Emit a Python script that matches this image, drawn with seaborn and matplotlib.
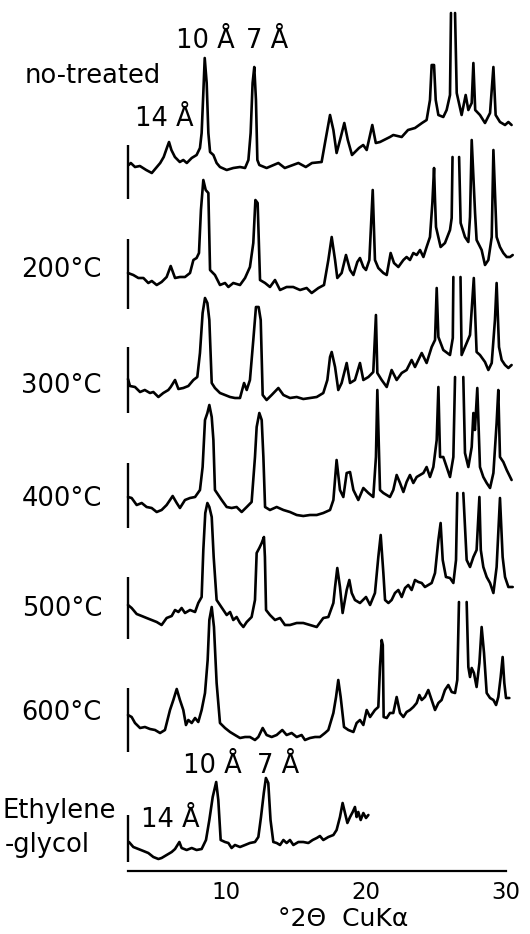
import numpy as np
import seaborn as sns
import matplotlib.pyplot as plt

# 2-theta (deg) and pen height above each trace's start
# nan = pen ran off the chart (peak top clipped)
nan = np.nan

tt_untreated = [3.05, 3.2, 3.5, 3.85, 4.3, 4.7, 5.0, 5.3, 5.55, 5.8, 5.93, 6.1, 6.35, 6.7, 6.95, 7.2, 7.55, 7.9,
                8.14, 8.26, 8.38, 8.48, 8.62, 8.74, 8.86, 9.1, 9.33, 9.57, 10.05, 10.52, 11.0, 11.36, 11.6, 11.76,
                11.9, 12.02, 12.14, 12.24, 12.38, 12.9, 13.74, 14.2, 15.17, 15.7, 16.14, 16.83, 17.07, 17.43, 17.67,
                17.9, 18.2, 18.45, 18.7, 19.0, 19.5, 19.8, 20.05, 20.45, 20.7, 21.0, 21.71, 21.95, 22.55, 23.0, 23.5,
                24.0, 24.33, 24.57, 24.69, 24.86, 24.98, 25.17, 25.52, 25.76, 26.0, 26.07, nan, 26.36, 26.48, 26.83,
                27.12, 27.31, 27.55, 27.67, 27.8, 28.14, 28.5, 28.86, 29.1, 29.26, 29.57, 29.93, 30.17, 30.4]
int_untreated = [0, 2, -2, -1, -5, -8, -3, 2, 8, 18, 23, 15, 8, 3, 5, 2, 7, 10, 17, 32, 72, 107, 82, 32, 13, 10, 2,
                 -2, -5, -3, -2, -3, 5, 32, 82, 98, 65, 5, 0, -3, 2, -3, 2, -2, 2, 3, 22, 50, 35, 12, 28, 42, 25, 10,
                 17, 20, 15, 40, 22, 23, 28, 30, 28, 35, 37, 42, 45, 65, 100, 100, 65, 50, 48, 55, 70, 152, nan, 152,
                 72, 50, 70, 55, 62, 102, 55, 50, 42, 52, 98, 50, 43, 40, 43, 40]

tt_200 = [3.0, 3.38, 3.74, 4.1, 4.45, 4.7, 5.05, 5.4, 5.76, 6.05, 6.36, 6.71, 7.07, 7.43, 7.67, 7.9, 8.07, 8.21,
          8.38, 8.55, 8.74, 8.86, 9.21, 9.57, 9.93, 10.17, 10.52, 11.0, 11.36, 11.71, 11.95, 12.1, 12.26, 12.43,
          12.79, 13.14, 13.5, 13.86, 14.33, 14.8, 15.29, 15.76, 16.12, 16.6, 17.0, 17.31, 17.55, 17.79, 17.95,
          18.26, 18.57, 18.86, 19.1, 19.38, 19.57, 19.81, 20.0, 20.24, 20.48, 20.64, 20.88, 21.24, 21.48, 21.76,
          22.0, 22.31, 22.67, 22.9, 23.14, 23.38, 23.62, 23.86, 24.1, 24.33, 24.57, 24.74, 24.86, 24.93, 25.0,
          25.33, 25.64, 26.0, 26.12, 26.18, nan, 26.65, 26.76, 27.07, 27.31, 27.43, 27.55, 27.79, 27.9, 28.26,
          28.5, 28.74, 28.98, 29.1, 29.33, 29.57, 29.81, 30.05, 30.29, 30.48]
int_200 = [0, -2, -5, -5, -10, -8, -12, -9, -4, 7, -5, -4, -4, 0, 13, 15, 20, 63, 93, 83, 80, 3, -2, -12, -10, -14,
           -10, -12, -5, 6, 30, 73, 70, -7, -10, -14, -7, -17, -14, -14, -17, -15, -20, -15, -12, 13, 36, 13, -5, 0,
           18, 3, -2, 11, 15, 6, 3, 13, 83, 13, 5, 0, -2, 20, 10, 6, 13, 16, 13, 20, 18, 23, 16, 26, 36, 70, 105, 73,
           46, 26, 30, 43, 55, 116, nan, 116, 50, 36, 31, 56, 133, 60, 33, 23, 8, 13, 36, 123, 36, 26, 20, 16, 16, 18]

tt_300 = [3.0, 3.14, 3.5, 3.86, 4.2, 4.57, 4.81, 5.17, 5.52, 5.88, 6.05, 6.36, 6.6, 6.95, 7.31, 7.67, 7.95, 8.14,
          8.33, 8.5, 8.67, 8.81, 8.98, 9.21, 9.57, 9.93, 10.29, 10.64, 11.0, 11.29, 11.48, 11.71, 11.95, 12.14,
          12.33, 12.48, 12.62, 12.9, 13.26, 13.74, 14.1, 14.57, 15.05, 15.52, 16.0, 16.48, 16.95, 17.24, 17.43,
          17.55, 17.79, 18.02, 18.26, 18.62, 18.86, 19.21, 19.57, 19.81, 20.17, 20.52, 20.71, 20.81, 21.12, 21.48,
          21.83, 22.19, 22.55, 22.9, 23.26, 23.5, 23.98, 24.33, 24.69, 24.93, 25.05, 25.17, 25.52, 26.0, 26.2,
          26.24, nan, 26.75, 26.83, 27.19, 27.43, 27.7, 27.9, 28.14, 28.5, 28.74, 28.98, 29.21, 29.33, 29.5,
          29.69, 29.93, 30.17, 30.4]
int_300 = [2, -5, -6, -11, -9, -12, -11, -16, -12, -9, -6, 1, -8, -7, -5, 1, 4, 28, 68, 83, 78, 61, -2, -7, -12,
           -14, -16, -17, -17, -2, -9, 1, 41, 74, 74, 61, -14, -19, -14, -7, -14, -17, -16, -18, -17, -16, -12, 1,
           24, 29, 14, -9, -2, 18, -2, 1, 18, 1, 4, 9, 66, 8, 1, -6, 11, 1, 8, 11, 21, 14, 28, 18, 34, 41, 93, 44,
           31, 26, 43, 104, nan, 104, 26, 38, 46, 103, 29, 26, 19, 11, 18, 61, 98, 34, 21, 16, 13, 16]

tt_400 = [3.0, 3.26, 3.62, 3.98, 4.33, 4.69, 5.05, 5.4, 5.76, 6.0, 6.19, 6.48, 6.71, 7.07, 7.43, 7.79, 8.14, 8.33,
          8.5, 8.67, 8.81, 8.98, 9.1, 9.21, 9.45, 9.69, 10.05, 10.4, 10.76, 11.12, 11.48, 11.83, 12.07, 12.19,
          12.38, 12.55, 12.67, 12.79, 13.14, 13.62, 14.1, 14.57, 15.05, 15.52, 16.0, 16.48, 16.95, 17.43, 17.67,
          17.9, 18.14, 18.38, 18.62, 18.86, 19.1, 19.45, 19.81, 20.17, 20.52, 20.71, 20.81, 21.0, 21.24, 21.71,
          21.95, 22.19, 22.43, 22.67, 22.9, 23.14, 23.38, 23.62, 24.1, 24.33, 24.57, 24.81, 25.05, 25.17, 25.29,
          25.52, 25.76, 26.0, 26.24, 26.36, nan, 26.95, 27.07, 27.31, 27.55, 27.67, 27.78, 27.95, 28.14, 28.38,
          28.62, 28.86, 29.1, 29.33, 29.45, 29.57, 29.81, 30.05, 30.4]
int_400 = [0, -1, -8, -6, -10, -11, -15, -13, -8, -3, 1, -6, -11, -3, -1, 0, 7, 30, 77, 84, 92, 80, 57, 7, 2, -3,
           -10, -11, -10, -15, -10, -5, 40, 70, 84, 77, 40, -10, -13, -10, -13, -15, -18, -19, -18, -18, -16, -13,
           -3, 37, 7, 0, 24, 25, 7, -3, 9, 4, 0, 40, 107, 7, 4, 0, 7, 22, 14, 5, 15, 22, 14, 20, 24, 30, 20, 30, 57,
           110, 40, 40, 30, 20, 40, 120, nan, 120, 44, 30, 50, 84, 67, 109, 30, 20, 14, 9, 24, 74, 107, 40, 35, 27,
           17]

tt_500 = [3.0, 3.26, 3.62, 3.98, 4.33, 4.69, 5.05, 5.4, 5.76, 6.12, 6.36, 6.6, 6.83, 7.07, 7.43, 7.79, 8.02, 8.26,
          8.38, 8.52, 8.67, 8.81, 8.98, 9.12, 9.33, 9.57, 9.81, 10.05, 10.29, 10.52, 10.76, 11.0, 11.24, 11.48,
          11.83, 12.07, 12.19, 12.38, 12.55, 12.71, 12.78, 12.86, 13.14, 13.5, 13.86, 14.21, 14.57, 15.05, 15.52,
          16.0, 16.48, 16.95, 17.31, 17.67, 17.79, 17.95, 18.14, 18.33, 18.62, 18.81, 18.98, 19.21, 19.57, 20.0,
          20.29, 20.64, 20.88, 21.05, 21.24, 21.36, 21.6, 21.83, 22.07, 22.31, 22.55, 22.79, 23.02, 23.26, 23.5,
          23.74, 23.98, 24.21, 24.45, 24.69, 24.93, 25.17, 25.33, 25.48, 25.71, 26.0, 26.24, 26.43, 26.52, nan,
          26.95, 27.19, 27.43, 27.67, 27.9, 28.1, 28.2, 28.38, 28.62, 28.86, 29.1, 29.33, 29.57, 29.76, 29.93,
          30.17, 30.48]
int_500 = [0, -3, -9, -11, -13, -15, -17, -20, -13, -11, -5, -7, -3, -8, -5, -7, 2, 8, 55, 92, 102, 98, 88, 48, 5,
           0, -5, -10, -7, -15, -12, -18, -22, -17, -12, 5, 52, 57, 62, 68, 48, -5, -10, -15, -13, -20, -20, -18,
           -18, -20, -22, -13, -12, 2, 18, 37, 18, -8, 15, 25, 12, 5, 2, 8, 0, 12, 48, 70, 32, 5, 2, 5, 12, 15, 8,
           17, 20, 15, 25, 23, 22, 18, 20, 22, 32, 65, 82, 45, 28, 27, 22, 45, 112, nan, 112, 45, 38, 48, 55, 108,
           55, 38, 28, 22, 12, 38, 107, 48, 28, 18, 18]

tt_600 = [3.0, 3.26, 3.5, 3.86, 4.21, 4.57, 4.93, 5.29, 5.64, 6.0, 6.24, 6.48, 6.71, 6.95, 7.14, 7.31, 7.55, 7.79,
          8.02, 8.26, 8.5, 8.69, 8.81, 8.98, 9.14, 9.33, 9.57, 9.93, 10.29, 10.64, 11.0, 11.36, 11.71, 12.07,
          12.31, 12.62, 12.9, 13.26, 13.62, 14.02, 14.33, 14.69, 15.05, 15.4, 15.64, 16.0, 16.36, 16.71, 17.07,
          17.31, 17.67, 17.86, 18.02, 18.19, 18.43, 18.74, 19.1, 19.33, 19.57, 19.81, 20.05, 20.29, 20.64, 20.88,
          21.0, 21.12, 21.2, 21.26, 21.48, 21.71, 21.95, 22.19, 22.43, 22.67, 22.9, 23.14, 23.38, 23.62, 23.81,
          23.98, 24.21, 24.45, 24.69, 24.93, 25.17, 25.4, 25.64, 25.88, 26.12, 26.36, 26.52, 26.64, nan, 27.19,
          27.31, 27.43, 27.55, 27.71, 27.9, 28.1, 28.26, 28.43, 28.62, 28.86, 29.1, 29.29, 29.45, 29.62, 29.76,
          29.88, 30.0, 30.24]
int_600 = [0, -2, -8, -13, -12, -14, -15, -18, -15, 5, 15, 26, 15, 5, -10, -5, -8, -3, -7, 5, 22, 55, 95, 108, 88,
           32, -8, -13, -17, -20, -23, -22, -22, -25, -22, -13, -20, -22, -20, -15, -20, -18, -22, -20, -25, -23,
           -22, -22, -18, -15, 2, 18, 35, 18, -12, -15, -17, -8, -5, -10, 5, -2, 5, 8, 48, 75, 70, -2, -3, 2, 2, 18,
           2, -2, 3, 5, 8, 12, 20, 15, 18, 25, 15, 5, 12, 15, 25, 30, 23, 22, 35, 113, nan, 113, 48, 38, 47, 42, 28,
           52, 88, 62, 22, 17, 15, 10, 18, 38, 58, 32, 17, 17]

tt_glycol = [3.07, 3.38, 3.74, 4.1, 4.45, 4.81, 5.17, 5.4, 5.76, 6.12, 6.36, 6.67, 6.83, 7.19, 7.55, 7.9, 8.26,
             8.57, 8.81, 9.05, 9.3, 9.45, 9.62, 9.93, 10.17, 10.4, 10.64, 11.0, 11.36, 11.71, 12.07, 12.31, 12.5,
             12.7, 12.85, 13.02, 13.18, 13.38, 13.62, 13.86, 14.1, 14.33, 14.57, 14.81, 15.17, 15.52, 15.88, 16.19,
             16.48, 16.71, 16.95, 17.31, 17.67, 17.9, 18.14, 18.33, 18.5, 18.67, 18.86, 19.05, 19.21, 19.33, 19.45,
             19.62, 19.81, 20.0, 20.17]
int_glycol = [0, -5, -7, -9, -11, -15, -17, -16, -13, -10, -7, 0, -6, -8, -6, -8, -7, 2, 22, 45, 60, 42, 2, 0, -1,
              -6, -3, -5, -3, -1, 0, 5, 25, 49, 64, 59, 22, 0, -1, -3, 2, -1, 2, -3, 0, 0, -1, 2, 4, 6, 2, 5, 7, 12,
              25, 39, 29, 19, 25, 30, 35, 25, 30, 22, 29, 24, 27]

sample_labels = ['no-treated', '200°C', '300°C', '400°C', '500°C', '600°C', 'Ethylene\n-glycol']
x_ticks = [5, 10, 15, 20, 25, 30]
x_tick_labels = ['', '10', '', '20', '', '30']

# ---------------------------------------------------------------------------

traces = [(tt_untreated, int_untreated), (tt_200, int_200), (tt_300, int_300), (tt_400, int_400),
          (tt_500, int_500), (tt_600, int_600), (tt_glycol, int_glycol)]
offsets = [706, 598, 490, 374, 266, 156, 29]
bars = [(672, 726), (562, 632), (458, 524), (343, 408), (232, 294), (119, 183), (9, 56)]


def draw_trace(ax, tt, counts, offset):
    # split at the nan gaps so clipped peak tops stay open
    tt = np.array(tt, dtype=float)
    counts = np.array(counts, dtype=float) + offset
    gaps = np.where(np.isnan(tt))[0]
    starts = np.concatenate([[0], gaps + 1])
    ends = np.concatenate([gaps, [len(tt)]])
    for s, e in zip(starts, ends):
        sns.lineplot(x=tt[s:e], y=counts[s:e], ax=ax, color='black', lw=1.9,
                     sort=False, estimator=None)


sns.set_style('white')
plt.rcParams['font.family'] = ['DejaVu Sans']
plt.rcParams['text.color'] = 'black'

fig = plt.figure(figsize=(5.3, 9.34), dpi=100)
ax = fig.add_axes([121 / 530, 63 / 934, 396.2 / 530, 871 / 934])

for (tt, counts), off, (lo, hi) in zip(traces, offsets, bars):
    draw_trace(ax, tt, counts, off)
    ax.vlines(3.0, lo, hi, color='black', lw=1.7)

ax.set_xlim(2.5, 30.8)
ax.set_ylim(0, 871)
for side in ['top', 'left', 'right']:
    ax.spines[side].set_visible(False)
ax.spines['bottom'].set_bounds(3, 30)
ax.spines['bottom'].set_linewidth(1.6)
ax.spines['bottom'].set_color('black')
ax.set_xticks(x_ticks)
ax.set_xticklabels(x_tick_labels)
ax.set_yticks([])
ax.tick_params(axis='x', direction='in', length=10, width=1.5, pad=7, labelsize=16.5,
               colors='black', labelcolor='black')
ax.set_xlabel('')
ax.set_ylabel('')

fs = 18.5
# sample names
ax.text(-4.36, 788, sample_labels[0], fontsize=fs, ha='left', va='baseline', color='black')
label_y = [594, 478, 365, 255, 151]
for lab, y in zip(sample_labels[1:6], label_y):
    ax.text(1.14, y, lab, fontsize=fs, ha='right', va='baseline', color='black')
glycol_lines = sample_labels[6].split('\n')
ax.text(-5.93, 53, glycol_lines[0], fontsize=fs, ha='left', va='baseline', color='black')
ax.text(-5.79, 19, glycol_lines[1], fontsize=fs, ha='left', va='baseline', color='black')

# basal spacings
ax.text(8.5, 823, '10 Å', fontsize=fs, ha='center', va='baseline', color='black')
ax.text(12.93, 823, '7 Å', fontsize=fs, ha='center', va='baseline', color='black')
ax.text(5.57, 745, '14 Å', fontsize=fs, ha='center', va='baseline', color='black')
ax.text(9.0, 98, '10 Å', fontsize=fs, ha='center', va='baseline', color='black')
ax.text(13.71, 98, '7 Å', fontsize=fs, ha='center', va='baseline', color='black')
ax.text(6.0, 44, '14 Å', fontsize=fs, ha='center', va='baseline', color='black')

ax.text(18.36, -55, '°2Θ  CuKα', fontsize=18, ha='center', va='baseline', color='black')

fig.savefig('out.png', dpi=100)
